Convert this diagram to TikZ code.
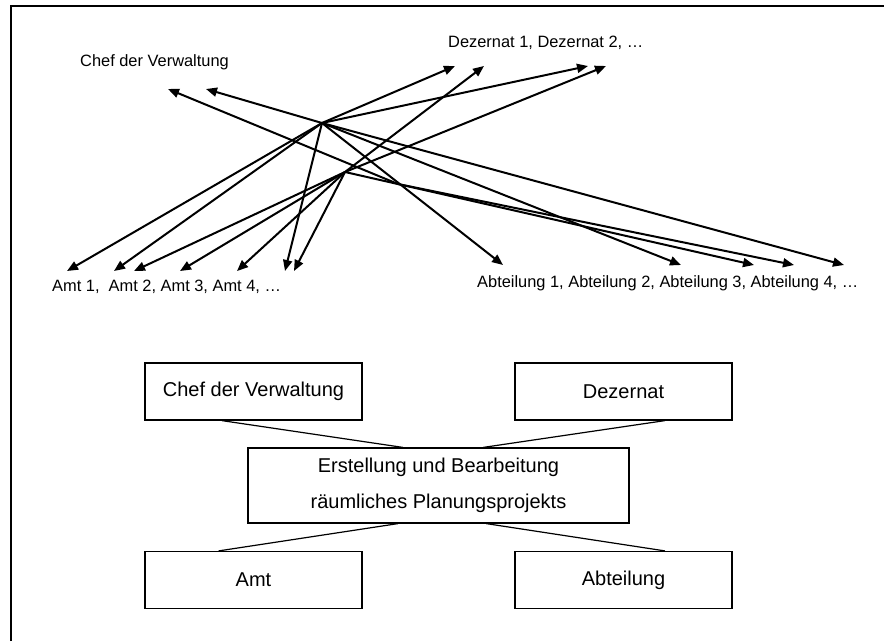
\documentclass[tikz,border=0pt]{standalone}
\usepackage{fontspec}
\setmainfont{Liberation Sans}
\usetikzlibrary{arrows.meta,calc}
\tikzset{
    box/.style = {draw, rectangle, line width=1.2pt,
        minimum height=57pt,
        minimum width=217pt, align=center,
        font=\fontsize{20}{36}\selectfont},
    lbl/.style = {inner sep=0pt, anchor=west, font=\fontsize{16.4}{20}\selectfont},
    arrow/.style = {draw, line width=2pt, -{Triangle[length=11pt,width=9pt]}},
    link/.style = {draw, line width=1.2pt}
}

\begin{document}
\begin{tikzpicture}[x=1pt, y=-1pt]
        \useasboundingbox (0,0) rectangle (884,641);
        \draw[line width=2pt] (11,641) -- (11,6) -- (884,6);
        % labels of the upper picture
        \node[lbl] (chef) at (80,62) {Chef der Verwaltung};
        \node[lbl] (dez) at (448,43) {Dezernat 1, Dezernat 2, …};
        \node[lbl] (amt) at (52,287) {Amt 1,\ \ Amt 2, Amt 3, Amt 4, …};
        \node[lbl] (abt) at (477,283) {Abteilung 1, Abteilung 2, Abteilung 3, Abteilung 4, …};
        % crossing points
        \coordinate (hubA) at (322,123);
        \coordinate (hubB) at (345,172);
        \coordinate (hubC) at (398,184);
        % arrow ends
        \foreach \n/\x in {1/168,2/206}{
            \coordinate (c\n) at (\x,89);
        }
        \foreach \n/\x in {1/455,2/484,3/588,4/606}{
            \coordinate (d\n) at (\x,66);
        }
        \foreach \n/\x in {1/67,2/114,3/134,4/180,5/237,6/285,7/294}{
            \coordinate (a\n) at (\x,271);
        }
        \foreach \n/\x in {1/503,2/681,3/754,4/794,5/844}{
            \coordinate (b\n) at (\x,265);
        }
        \foreach \t in {c2,d1,d3,a1,a2,a6,b1,b2,b5}{
            \draw[arrow] (hubA) -- (\t);
        }
        \foreach \t in {a3,a4,a5,a7,d2,d4,b3}{
            \draw[arrow] (hubB) -- (\t);
        }
        \foreach \t in {c1,b4}{
            \draw[arrow] (hubC) -- (\t);
        }
        % lower picture
        \node[box] (chefbox) at (253.5,391.5) {Chef der Verwaltung};
        \node[box] (dezbox) at (623.5,391.5) {Dezernat};
        \node[box, minimum width=381pt, minimum height=75pt] (projbox) at (438.5,485.5) {Erstellung und Bearbeitung\\räumliches Planungsprojekts};
        \node[box] (amtbox) at (253.5,580) {Amt};
        \node[box] (abtbox) at (623.5,580) {Abteilung};
        \draw[link] ($(chefbox.south west)!0.355!(chefbox.south east)$) -- ($(projbox.north west)!0.407!(projbox.north east)$);
        \draw[link] ($(dezbox.south west)!0.69!(dezbox.south east)$) -- ($(projbox.north west)!0.617!(projbox.north east)$);
        \draw[link] ($(projbox.south west)!0.394!(projbox.south east)$) -- ($(amtbox.north west)!0.34!(amtbox.north east)$);
        \draw[link] ($(projbox.south west)!0.625!(projbox.south east)$) -- ($(abtbox.north west)!0.69!(abtbox.north east)$);
\end{tikzpicture}
\end{document}
